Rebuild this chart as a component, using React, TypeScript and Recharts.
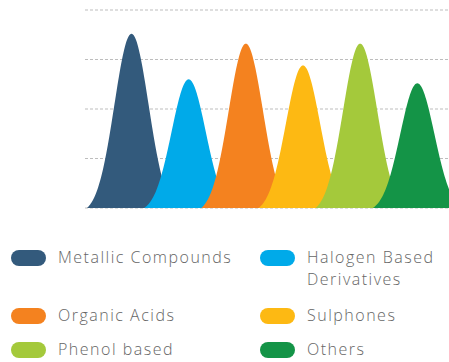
import { BarChart, Bar, Cell, XAxis, YAxis, CartesianGrid } from "recharts";

const categories = [
  "Metallic Compounds",
  "Halogen Based Derivatives",
  "Organic Acids",
  "Sulphones",
  "Phenol based",
  "Others",
];
const shares = [88, 65, 83, 72, 83, 63];
const colors = ["#335a7c", "#00aae9", "#f4821f", "#fdb913", "#a4c93b", "#149447"];
const yTicks = [0, 25, 50, 75, 100];

const data = categories.map((name, i) => ({ name, value: shares[i] }));

// each bar is drawn as a bell curve rising from the baseline to the bar top
function BellShape(props: any) {
  const { x, y, width, height, fill } = props;
  const cx = x + width / 2;
  const base = y + height;
  const sigma = width * 0.3;
  const reach = 2.6;
  const g0 = Math.exp(-(reach * reach) / 2);
  const steps = 60;
  const pts: string[] = [];
  for (let i = -steps; i <= steps; i++) {
    const t = (i / steps) * reach;
    const g = (Math.exp(-(t * t) / 2) - g0) / (1 - g0);
    pts.push(`${(cx + t * sigma).toFixed(2)},${(base - height * g).toFixed(2)}`);
  }
  return <path d={`M${pts.join(" L")} Z`} fill={fill} />;
}

// legend rows: [left item, right item], y of the pill centre
const legendRows = [
  { items: [0, 1], y: 258 },
  { items: [2, 3], y: 316 },
  { items: [4, 5], y: 350 },
];
const legendCols = [11, 260];
const legendTextWidths = [200, 140];

export default function App() {
  return (
    <div
      style={{
        position: "absolute",
        left: 0,
        top: 0,
        width: 449,
        height: 362,
        background: "#fff",
        overflow: "hidden",
      }}
    >
      <BarChart
        width={449}
        height={215}
        data={data}
        margin={{ top: 10, right: 0, bottom: 7, left: 85 }}
        barCategoryGap={0}
      >
        <CartesianGrid
          vertical={false}
          stroke="#bdbdbd"
          strokeDasharray="3 2"
        />
        <XAxis dataKey="name" hide padding={{ left: 18, right: 3 }} />
        <YAxis hide domain={[0, 100]} ticks={yTicks} />
        <Bar dataKey="value" shape={<BellShape />} isAnimationActive={false}>
          {data.map((d, i) => (
            <Cell key={d.name} fill={colors[i]} />
          ))}
        </Bar>
      </BarChart>

      {legendRows.map((row) =>
        row.items.map((idx, col) => (
          <div key={categories[idx]}>
            <div
              style={{
                position: "absolute",
                left: legendCols[col],
                top: row.y - 8,
                width: 35,
                height: 16,
                borderRadius: 8,
                background: colors[idx],
              }}
            />
            <div
              style={{
                position: "absolute",
                left: legendCols[col] + 47,
                top: row.y - 12,
                width: legendTextWidths[col],
                fontFamily: "'Open Sans', sans-serif",
                fontSize: 16,
                fontWeight: 300,
                lineHeight: "22px",
                letterSpacing: 1.5,
                color: "#666",
              }}
            >
              {categories[idx]}
            </div>
          </div>
        ))
      )}
    </div>
  );
}
